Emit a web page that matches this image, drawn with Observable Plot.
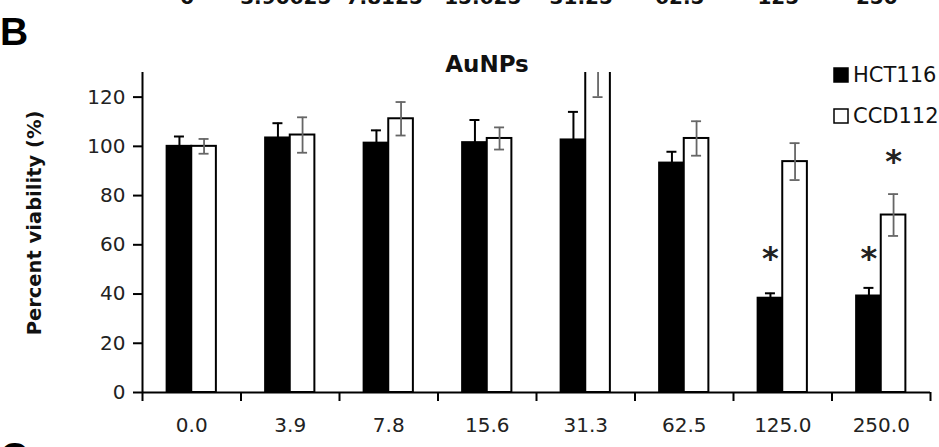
<!DOCTYPE html>
<html>
<head>
<meta charset="utf-8">
<script src="https://cdn.jsdelivr.net/npm/d3@7"></script>
<script src="https://cdn.jsdelivr.net/npm/@observablehq/plot@0.6"></script>
<style>
  html, body { margin: 0; padding: 0; background: #fff; }
</style>
</head>
<body>
<div id="chart"></div>
<script>
// ---- data ----
const doses = ["0.0", "3.9", "7.8", "15.6", "31.3", "62.5", "125.0", "250.0"];
const hct116 = [100, 103.4, 101.3, 101.5, 102.6, 93.2, 38.3, 39.2];
const hct116Err = [4, 6, 5.2, 9.2, 11.4, 4.6, 2, 3.3];
const ccd112 = [100, 104.6, 111.2, 103.2, 136, 103.2, 93.8, 72.1];
const ccd112Err = [3, 7.2, 6.8, 4.5, 16, 7, 7.5, 8.5];
const yTicks = [0, 20, 40, 60, 80, 100, 120];
const topLabels = ["0", "3.90625", "7.8125", "15.625", "31.25", "62.5", "125", "250"];
const stars = [
  {dose: "125.0", series: "HCT116", y: 55},
  {dose: "250.0", series: "HCT116", y: 55},
  {dose: "250.0", series: "CCD112", y: 94.5}
];
const seriesNames = ["HCT116", "CCD112"];

// ---- derived tables ----
const offset = {HCT116: 0.25, CCD112: 0.5};
const barW = 0.25;
const hctRows = doses.map((d, i) => ({i, dose: d, series: "HCT116", v: hct116[i], e: hct116Err[i]}));
const ccdRows = doses.map((d, i) => ({i, dose: d, series: "CCD112", v: ccd112[i], e: ccd112Err[i]}));
const rows = hctRows.concat(ccdRows);
const cx = d => d.i + offset[d.series] + barW / 2;
const starRows = stars.map(s => ({...s, i: doses.indexOf(s.dose)}));
const boundaries = d3.range(0, doses.length + 1);
const centers = doses.map((d, i) => i + 0.5);

const plot = Plot.plot({
  width: 939,
  height: 447,
  marginLeft: 142,
  marginRight: 9,
  marginTop: 72,
  marginBottom: 55,
  style: {fontFamily: "DejaVu Sans", fontSize: "20px", color: "#000", background: "#fff"},
  x: {type: "linear", domain: [0, doses.length], axis: null},
  y: {domain: [0, 130], axis: null},
  marks: [
    Plot.rectY(rows, {
      x1: d => d.i + offset[d.series],
      x2: d => d.i + offset[d.series] + barW,
      y1: 0, y2: "v",
      fill: d => d.series === "HCT116" ? "#000" : "#fff",
      stroke: "#000", strokeWidth: 2, clip: true
    }),
    // HCT116 error bars (upper only, black)
    Plot.ruleX(hctRows, {x: cx, y1: "v", y2: d => d.v + d.e, stroke: "#000", strokeWidth: 2, clip: true}),
    Plot.ruleY(hctRows, {y: d => d.v + d.e, x1: cx, x2: cx, insetLeft: -5, insetRight: -5, stroke: "#000", strokeWidth: 2, clip: true}),
    // CCD112 error bars (both sides, gray)
    Plot.ruleX(ccdRows, {x: cx, y1: d => d.v - d.e, y2: d => d.v + d.e, stroke: "#666", strokeWidth: 1.8, clip: true}),
    Plot.ruleY(ccdRows, {y: d => d.v - d.e, x1: cx, x2: cx, insetLeft: -5, insetRight: -5, stroke: "#666", strokeWidth: 1.8, clip: true}),
    Plot.ruleY(ccdRows, {y: d => d.v + d.e, x1: cx, x2: cx, insetLeft: -5, insetRight: -5, stroke: "#666", strokeWidth: 1.8, clip: true}),
    // axes
    Plot.ruleX([0], {stroke: "#000", strokeWidth: 2}),
    Plot.ruleY([0], {stroke: "#000", strokeWidth: 2}),
    Plot.axisY({ticks: yTicks, tickSize: 9, tickPadding: 8, strokeWidth: 2, stroke: "#000", label: null, fill: "#222"}),
    Plot.axisX({ticks: boundaries, tickSize: 9, strokeWidth: 2, stroke: "#000", tickFormat: () => "", label: null}),
    Plot.axisX({ticks: centers, tickSize: 0, tickPadding: 25, tickFormat: d => doses[Math.round(d - 0.5)], label: null, fill: "#222"}),
    // significance asterisks
    Plot.text(starRows, {x: cx, y: "y", text: () => "*", fontSize: 32, fontWeight: "bold", dy: 2, fill: "#222"})
  ]
});

document.getElementById("chart").appendChild(plot);

const svg = d3.select(plot);
const xs = plot.scale("x");

// cut-off labels from the panel above
topLabels.forEach((t, i) => {
  svg.append("text")
    .attr("x", xs.apply(i + 0.5) - 4)
    .attr("y", 4)
    .attr("text-anchor", "middle")
    .attr("font-family", "DejaVu Sans")
    .attr("font-weight", "bold")
    .attr("font-size", 20)
    .attr("fill", "#111")
    .text(t);
});

// panel letters
svg.append("text").attr("x", 0).attr("y", 45).attr("text-anchor", "start")
  .attr("font-family", "Liberation Sans").attr("font-weight", "bold").attr("font-size", 39)
  .attr("fill", "#000").text("B");
svg.append("text").attr("x", 0).attr("y", 470).attr("text-anchor", "start")
  .attr("font-family", "Liberation Sans").attr("font-weight", "bold").attr("font-size", 39)
  .attr("fill", "#000").text("C");

// title
svg.append("text").attr("x", 487).attr("y", 72)
  .attr("text-anchor", "middle")
  .attr("font-family", "DejaVu Sans").attr("font-weight", "bold").attr("font-size", 23)
  .attr("fill", "#111").text("AuNPs");

// y label
svg.append("text")
  .attr("transform", "translate(41,223) rotate(-90)")
  .attr("text-anchor", "middle")
  .attr("font-family", "DejaVu Sans").attr("font-weight", "bold").attr("font-size", 19.5)
  .attr("fill", "#111").text("Percent viability (%)");

// legend
const legendY = [67, 108];
seriesNames.forEach((s, k) => {
  svg.append("rect")
    .attr("x", 834).attr("y", legendY[k] + 1).attr("width", 14).attr("height", 14)
    .attr("fill", s === "HCT116" ? "#000" : "#fff")
    .attr("stroke", "#000").attr("stroke-width", 1.5);
  svg.append("text")
    .attr("x", 853).attr("y", legendY[k] + 15)
    .attr("text-anchor", "start")
    .attr("font-family", "DejaVu Sans").attr("font-size", 21)
    .attr("fill", "#111").text(s);
});
</script>
</body>
</html>
